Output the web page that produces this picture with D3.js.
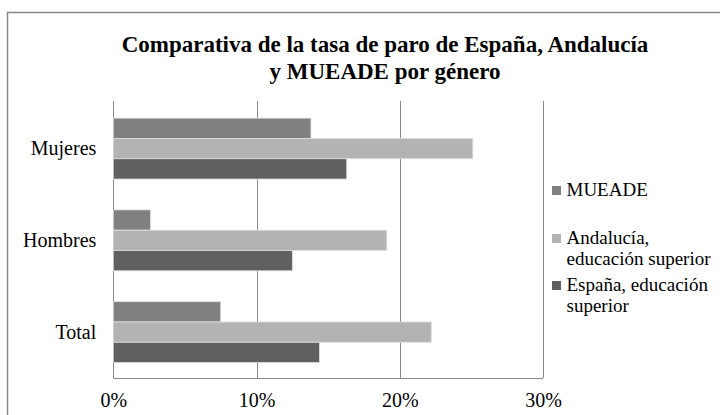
<!DOCTYPE html>
<html>
<head>
<meta charset="utf-8">
<script src="https://cdn.jsdelivr.net/npm/d3@7"></script>
</head>
<body style="margin:0">
<svg id="chart" width="720" height="415"></svg>
<script>
const categories = ["Mujeres", "Hombres", "Total"];
const seriesNames = ["MUEADE", "Andalucía, educación superior", "España, educación superior"];
const legendLines = [["MUEADE"], ["Andalucía,", "educación superior"], ["España, educación", "superior"]];
const mueade = [0.138, 0.026, 0.075];
const andalucia = [0.251, 0.191, 0.222];
const espana = [0.163, 0.125, 0.144];
const colors = ["#808080", "#b3b3b3", "#606060"];
const xTicks = [0, 0.1, 0.2, 0.3];
const titleLines = ["Comparativa de la tasa de paro de España, Andalucía", "y MUEADE por género"];

const FONT = '"Times New Roman", "Liberation Serif", Tinos, serif';
const seriesValues = [mueade, andalucia, espana];
const svg = d3.select("#chart");

// measure font fallback: scale sizes if the serif face is not used
const probe = svg.append("text").attr("font-size", 20).style("font-family", FONT).text("MUEADE");
const pw = probe.node().getComputedTextLength();
probe.remove();
const k = pw > 90 ? 85.5 / pw : 1;
const LBL = 20 * k, TTL = 23 * k, LEG = 19 * k;

// chart border
svg.append("rect").attr("x", 7.5).attr("y", 12.5).attr("width", 800).attr("height", 500)
  .attr("fill", "none").attr("stroke", "#888").attr("stroke-width", 1.5);

const x = d3.scaleLinear().domain([0, 0.3]).range([113.3, 543]);
const y = d3.scaleBand().domain(categories).range([102.7, 378]).padding(0);
const y1 = d3.scaleBand().domain(seriesNames).range([0, y.bandwidth()]).paddingInner(0).paddingOuter(0.76);

// gridlines
svg.append("g").selectAll("line").data(xTicks).join("line")
  .attr("x1", d => Math.round(x(d)) + 0.5).attr("x2", d => Math.round(x(d)) + 0.5)
  .attr("y1", 101).attr("y2", 378)
  .attr("stroke", "#8a8a8a").attr("stroke-width", 1);

// bars
const rows = [];
categories.forEach((c, i) => seriesNames.forEach((s, j) => rows.push({c, s, j, v: seriesValues[j][i]})));
svg.append("g").selectAll("rect").data(rows).join("rect")
  .attr("x", x(0))
  .attr("y", d => y(d.c) + y1(d.s))
  .attr("width", d => x(d.v) - x(0))
  .attr("height", y1.bandwidth())
  .attr("fill", d => colors[d.j])
  .attr("stroke", "#e0e0e0").attr("stroke-width", 0.8);

// bottom axis line
svg.append("line").attr("x1", x(0)).attr("x2", x(0.3)).attr("y1", 378.5).attr("y2", 378.5)
  .attr("stroke", "#8a8a8a").attr("stroke-width", 1);

// x axis labels
const xAxis = d3.axisBottom(x).tickValues(xTicks).tickFormat(d3.format(".0%")).tickSize(0).tickPadding(15);
const gx = svg.append("g").attr("transform", "translate(0,378)").call(xAxis);
gx.attr("font-family", null).attr("font-size", null);
gx.select(".domain").remove();
gx.selectAll("text").attr("font-size", LBL).style("font-family", FONT).attr("fill", "#000");

// y axis labels
const yAxis = d3.axisLeft(y).tickSize(0).tickPadding(17);
const gy = svg.append("g").attr("transform", `translate(${x(0)},0)`).call(yAxis);
gy.attr("font-family", null).attr("font-size", null);
gy.select(".domain").remove();
gy.selectAll("text").attr("font-size", LBL).style("font-family", FONT).attr("fill", "#000");

// title
svg.append("g").selectAll("text").data(titleLines).join("text")
  .attr("x", 385).attr("y", (d, i) => 52 + i * 27)
  .attr("text-anchor", "middle")
  .attr("font-size", TTL).attr("font-weight", "bold").style("font-family", FONT)
  .text(d => d);

// legend
const legendBase = [196, 244, 291];
const lg = svg.append("g");
legendLines.forEach((lines, j) => {
  lg.append("rect").attr("x", 552).attr("y", legendBase[j] - 10).attr("width", 9).attr("height", 9)
    .attr("fill", colors[j]);
  lines.forEach((t, i) => {
    lg.append("text").attr("x", 566.5).attr("y", legendBase[j] + i * 21)
      .attr("font-size", LEG).style("font-family", FONT).text(t);
  });
});
</script>
</body>
</html>
